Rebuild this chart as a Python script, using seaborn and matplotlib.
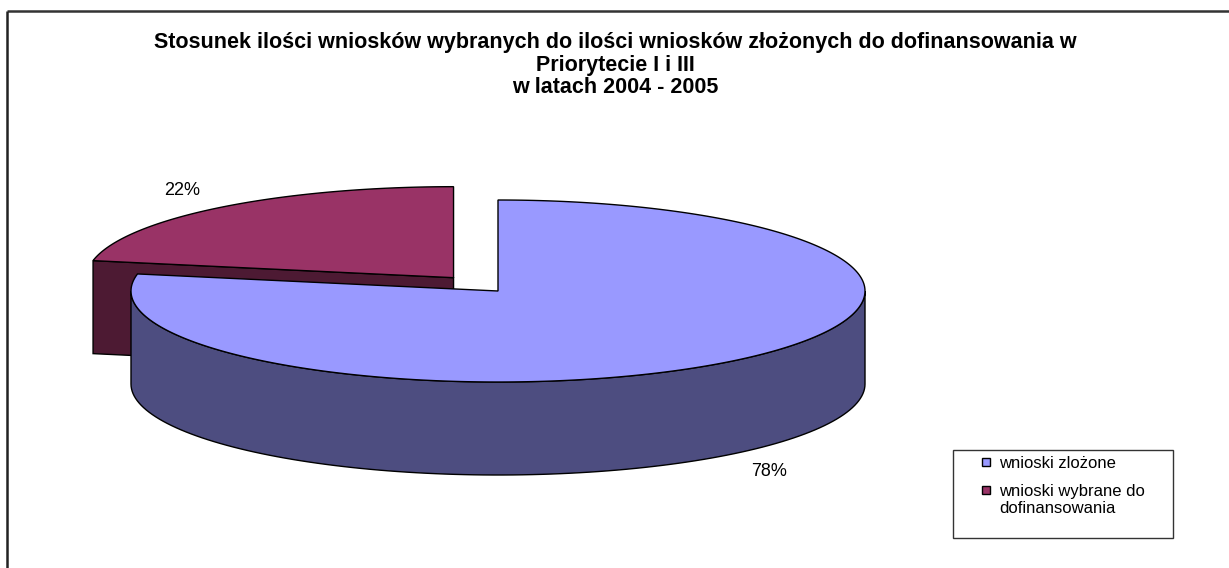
import numpy as np
import seaborn as sns
import matplotlib.pyplot as plt
from matplotlib.patches import Polygon, Rectangle

# data
labels = ["wnioski zlożone", "wnioski wybrane do\ndofinansowania"]
shares = [78, 22]
top_colors = ["#9999FF", "#993366"]
side_colors = ["#4D4D80", "#4D1A33"]

title = ("Stosunek ilości wniosków wybranych do ilości wniosków złożonych do dofinansowania w\n"
         "Priorytecie I i III\nw latach 2004 - 2005")

# layout of the fake 3d pie (pixel space)
W, H = 1229, 568
CX, CY = 498, 291
RX, RY = 367, 91
DEPTH = 93
EXPLODE = [0.0, 0.19]

sns.set_theme(style="white")
plt.rcParams['font.family'] = ['Liberation Sans', 'DejaVu Sans']
plt.rcParams['text.color'] = 'black'

fig = plt.figure(figsize=(W / 100, H / 100), dpi=100)
ax = fig.add_axes([0, 0, 1, 1])
ax.set_xlim(0, W)
ax.set_ylim(H, 0)
ax.axis("off")


def rim(cx, cy, t, dz=0.0):
    t = np.atleast_1d(t)
    return np.column_stack([cx + RX * np.cos(t), cy - RY * np.sin(t) + dz])


# slice angles, clockwise from 12 o'clock
cum = np.concatenate([[0], np.cumsum(shares)]) / sum(shares)
slices = []
for i in range(len(shares)):
    a1 = np.pi / 2 - cum[i] * 2 * np.pi
    a2 = np.pi / 2 - cum[i + 1] * 2 * np.pi
    mid = (a1 + a2) / 2
    cx = CX + EXPLODE[i] * RX * np.cos(mid)
    cy = CY - EXPLODE[i] * RY * np.sin(mid)
    slices.append((a2, a1, mid, cx, cy))

# back slice first
for i in reversed(range(len(shares))):
    lo, hi, mid, cx, cy = slices[i]
    c = np.array([[cx, cy]])
    # radial faces that look to the front
    for ang, normal in [(lo, lo - np.pi / 2), (hi, hi + np.pi / 2)]:
        if np.sin(normal) < -1e-6:
            p = rim(cx, cy, ang)
            face = np.vstack([c, p, p + [0, DEPTH], c + [0, DEPTH]])
            ax.add_patch(Polygon(face, closed=True, fc=side_colors[i], ec="black", lw=1))
    # curved front side
    for k in range(-2, 2):
        a, b = max(lo, np.pi + 2 * np.pi * k), min(hi, 2 * np.pi + 2 * np.pi * k)
        if b > a:
            t = np.linspace(a, b, 120)
            up = rim(cx, cy, t)
            dn = rim(cx, cy, t[::-1], DEPTH)
            ax.add_patch(Polygon(np.vstack([up, dn]), closed=True, fc=side_colors[i], ec="black", lw=1))
    # top face
    t = np.linspace(lo, hi, 300)
    ax.add_patch(Polygon(np.vstack([c, rim(cx, cy, t)]), closed=True,
                         fc=top_colors[i], ec="black", lw=1))

# percentage labels
for i in range(len(shares)):
    lo, hi, mid, cx, cy = slices[i]
    lx = cx + 1.16 * RX * np.cos(mid)
    ly = cy - 1.25 * RY * np.sin(mid) + (DEPTH if np.sin(mid) < 0 else 0)
    ax.text(lx, ly, f"{shares[i]}%", ha="center", va="center", fontsize=13)

ax.text(615, 65, title, ha="center", va="center", fontsize=15.5, fontweight="bold",
        linespacing=1.07)

# frame lines top/left
ax.plot([7, W], [11, 11], color="#333333", lw=1.8, solid_capstyle="butt")
ax.plot([7, 7], [11, H], color="#222222", lw=1.8, solid_capstyle="butt")

# legend box
ax.add_patch(Rectangle((953, 450), 220, 88, fc="white", ec="#333333", lw=1))
for i in range(len(shares)):
    y = 462 + 28 * i
    ax.add_patch(Rectangle((982, y - 4), 8, 8, fc=top_colors[i], ec="black", lw=1))
    ax.text(999, y - 6, labels[i], ha="left", va="top", fontsize=12, linespacing=1.2)

fig.savefig("out.png", dpi=100)
